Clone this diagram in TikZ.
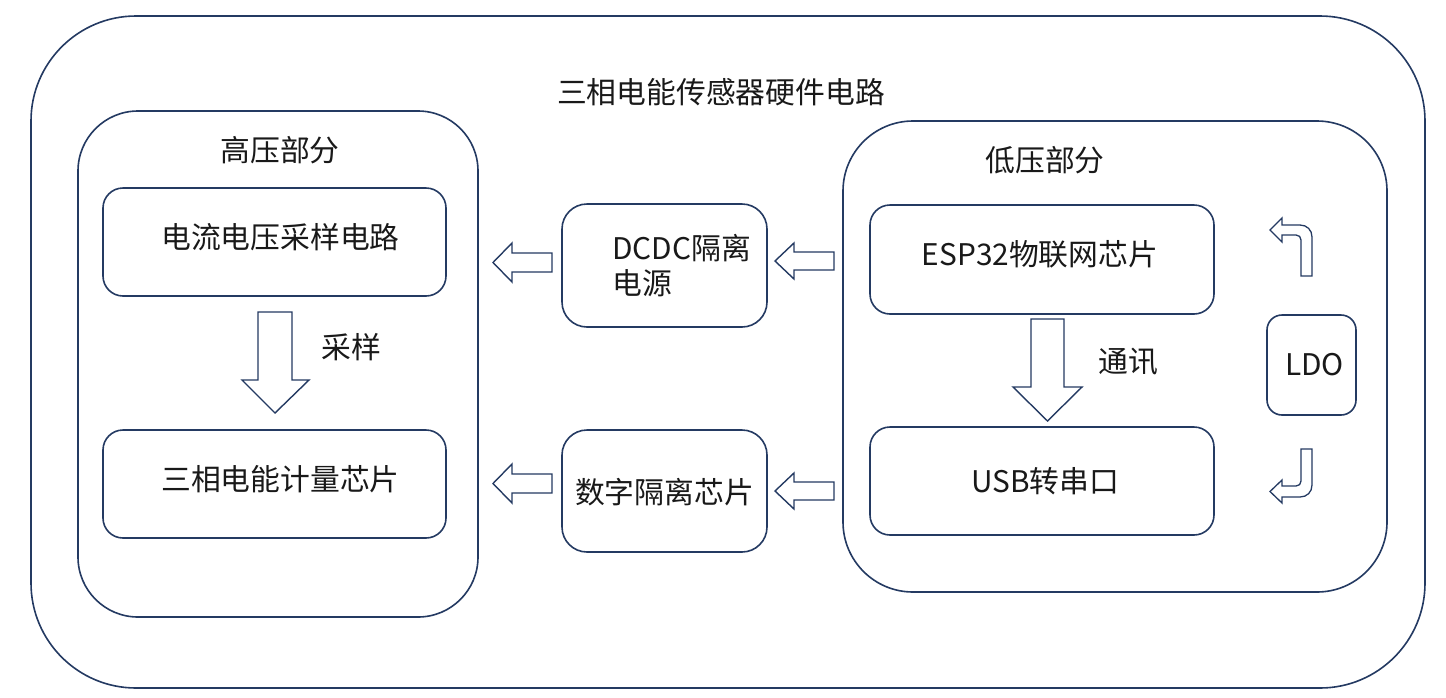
\documentclass[tikz,border=0pt]{standalone}
\usepackage{fontspec}
\setmainfont{Noto Sans CJK SC}
\definecolor{navy}{RGB}{36,58,98}
\definecolor{txt}{RGB}{25,25,25}
\tikzset{
  box/.style={draw=navy, line width=1.6pt, inner sep=0pt, fill=white},
  lbl/.style={text=txt, inner sep=0pt, font=\fontsize{29.8}{35}\selectfont},
  blk/.style={draw=navy, line width=1.4pt, fill=white, line join=miter},
}
\begin{document}
\begin{tikzpicture}[x=1pt,y=-1pt]
\useasboundingbox (0,0) rectangle (1446,697);
% containers
\node[box, rounded corners=105pt, minimum width=1394pt, minimum height=672pt] (outer) at (728,352) {};
\node[box, rounded corners=60pt, minimum width=400pt, minimum height=506pt] (hv) at (278,364) {};
\node[box, rounded corners=70pt, minimum width=544pt, minimum height=471pt] (lv) at (1115,356.5) {};
% inner blocks
\node[box, rounded corners=20pt, minimum width=343pt, minimum height=108pt] (samp) at (274.5,242) {};
\node[box, rounded corners=20pt, minimum width=343pt, minimum height=108pt] (meter) at (274.5,484) {};
\node[box, rounded corners=25pt, minimum width=205pt, minimum height=123pt] (dcdc) at (664.5,265.5) {};
\node[box, rounded corners=25pt, minimum width=205pt, minimum height=122pt] (iso) at (664.5,491) {};
\node[box, rounded corners=20pt, minimum width=344pt, minimum height=109pt] (esp) at (1042,259.5) {};
\node[box, rounded corners=20pt, minimum width=344pt, minimum height=108pt] (usb) at (1042,481) {};
\node[box, rounded corners=15pt, minimum width=89pt, minimum height=100pt] (ldo) at (1311.5,365) {};
% texts
\node[lbl] (title) at (721,92) {三相电能传感器硬件电路};
\node[lbl] (hvt) at (280,150) {高压部分};
\node[lbl] (lvt) at (1045,160) {低压部分};
\node[lbl] at (samp.center) [xshift=6pt,yshift=5pt] {电流电压采样电路};
\node[lbl] at (meter.center) [xshift=6pt,yshift=5pt] {三相电能计量芯片};
\node[lbl, anchor=west, align=left] at (612,266) {DCDC隔离\\电源};
\node[lbl] at (iso.center) [yshift=-1pt] {数字隔离芯片};
\node[lbl] at (esp.center) [xshift=-2pt,yshift=5pt] {ESP32物联网芯片};
\node[lbl] at (usb.center) [xshift=3pt] {USB转串口};
\node[lbl] at (ldo.center) [xshift=3pt] {LDO};
\node[lbl] (s1) at (351,347) {采样};
\node[lbl] (s2) at (1128,362) {通讯};
% block arrows left (DCDC row)
\draw[blk] (552,253) -- (512,253) -- (512,243) -- (493,262.5) -- (512,282) -- (512,272) -- (552,272) -- cycle;
\draw[blk] (834,252) -- (794,252) -- (794,243) -- (775,261) -- (794,279) -- (794,270) -- (834,270) -- cycle;
% block arrows (iso row)
\draw[blk] (552,474) -- (512,474) -- (512,464) -- (493,483.5) -- (512,503) -- (512,493) -- (552,493) -- cycle;
\draw[blk] (834,482) -- (794,482) -- (794,473) -- (775,491) -- (794,509) -- (794,500) -- (834,500) -- cycle;
% down arrows
\draw[blk] (258,312) -- (292,312) -- (292,380) -- (309,380) -- (275,413) -- (242,380) -- (258,380) -- cycle;
\draw[blk] (1031,319) -- (1064,319) -- (1064,387) -- (1082,387) -- (1047.5,421) -- (1013,387) -- (1031,387) -- cycle;
% bent arrows near LDO
\draw[blk, line width=1.3pt] (1301,276) -- (1301,240) .. controls (1301,237) and (1299,235) .. (1296,235) -- (1282,235) -- (1282,242) -- (1270,230) -- (1282,218) -- (1282,225) -- (1300,225) .. controls (1307,225) and (1312,230) .. (1312,237) -- (1312,276) -- cycle;
\draw[blk, line width=1.3pt] (1301,449) -- (1301,481) .. controls (1301,484) and (1299,486) .. (1296,486) -- (1282,486) -- (1282,480) -- (1270,491.5) -- (1282,503) -- (1282,497) -- (1300,497) .. controls (1307,497) and (1312,492) .. (1312,485) -- (1312,449) -- cycle;
\end{tikzpicture}
\end{document}
